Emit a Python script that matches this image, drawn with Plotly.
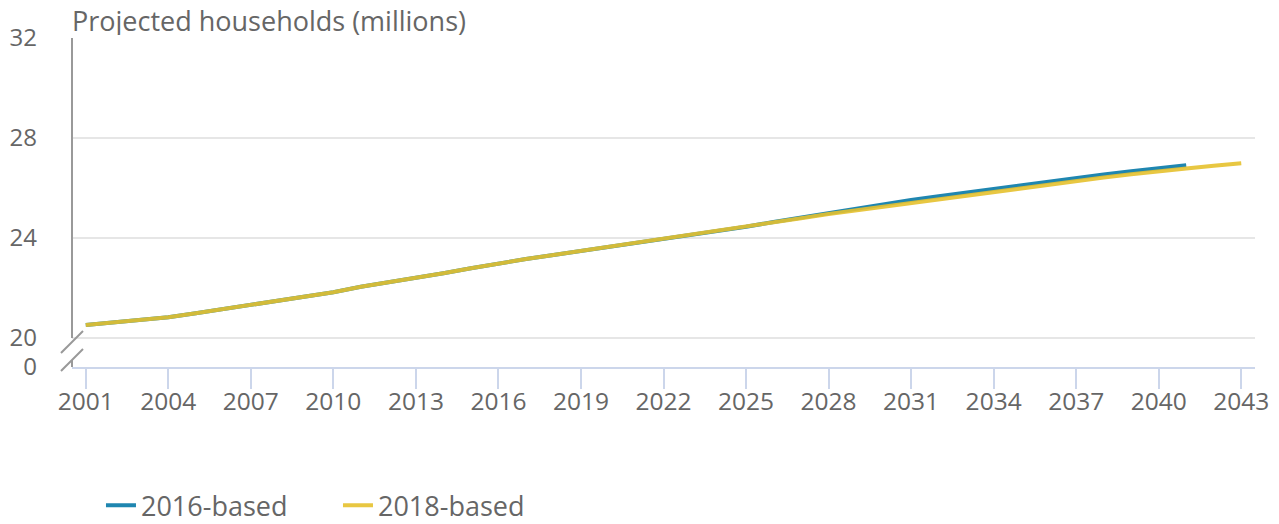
import plotly.graph_objects as go

years_2016 = list(range(2001, 2042))
years_2018 = list(range(2001, 2044))

based_2016 = [20.52, 20.62, 20.72, 20.83, 20.99, 21.15, 21.32, 21.49, 21.66, 21.83,
              22.05, 22.22, 22.39, 22.59, 22.79, 22.99, 23.16, 23.32, 23.48, 23.64,
              23.79, 23.95, 24.12, 24.29, 24.45, 24.64, 24.82, 25.00, 25.17, 25.34,
              25.52, 25.67, 25.82, 25.97, 26.12, 26.27, 26.41, 26.54, 26.67, 26.79,
              26.91]
based_2018 = [20.52, 20.62, 20.72, 20.83, 20.99, 21.15, 21.32, 21.49, 21.66, 21.83,
              22.05, 22.22, 22.39, 22.59, 22.79, 22.99, 23.16, 23.32, 23.48, 23.64,
              23.79, 23.95, 24.12, 24.29, 24.45, 24.62, 24.79, 24.96, 25.11, 25.26,
              25.41, 25.56, 25.71, 25.85, 25.99, 26.14, 26.29, 26.42, 26.55, 26.68,
              26.78, 26.89, 26.99]

x_ticks = list(range(2001, 2044, 3))
y_tick_labels = ["0", "20", "24", "28", "32"]
y_tick_values = [18.84, 20, 24, 28, 32]

FONT = "Open Sans"
GREY = "#666666"
AXIS_GREY = "#999999"

fig = go.Figure()
fig.add_trace(go.Scatter(x=years_2016, y=based_2016, mode="lines", name="2016-based",
                         line=dict(color="#1f86b0", width=4)))
fig.add_trace(go.Scatter(x=years_2018, y=based_2018, mode="lines", name="2018-based",
                         line=dict(color="#e6c12e", width=4), opacity=0.9))

# vertical axis line (broken) and break marks
fig.add_shape(type="line", xref="paper", yref="paper", x0=0, x1=0, y0=0.088, y1=1,
              line=dict(color=AXIS_GREY, width=2))
fig.add_shape(type="line", xref="paper", yref="paper", x0=0, x1=0, y0=0.0, y1=0.021,
              line=dict(color=AXIS_GREY, width=2))
for y0, y1 in ((0.0426, 0.1094), (-0.0122, 0.0547)):
    fig.add_shape(type="line", xref="paper", yref="paper",
                  x0=-0.0093, x1=0.0093, y0=y0, y1=y1,
                  line=dict(color=AXIS_GREY, width=2))

fig.update_layout(
    width=1279, height=524,
    margin=dict(l=64, r=32, t=30, b=165, autoexpand=False),
    plot_bgcolor="white", paper_bgcolor="white",
    font=dict(family=FONT, color=GREY, size=24),
    showlegend=True,
    legend=dict(orientation="h", x=0.0245, xanchor="left",
                yref="container", y=0.05, yanchor="middle",
                font=dict(size=27, color=GREY), entrywidth=192, traceorder="normal"),
    xaxis=dict(range=[2000.5, 2043.5], tickvals=x_ticks, ticks="outside", ticklen=20,
               tickcolor="#ccd6eb", tickwidth=2, showline=True, linecolor="#ccd6eb",
               linewidth=2, showgrid=False, zeroline=False, ticklabelstandoff=-8,
               automargin=False, tickfont=dict(size=24.5, color=GREY)),
    yaxis=dict(range=[18.84, 32], tickvals=y_tick_values, ticktext=y_tick_labels,
               showgrid=True, gridcolor="#e6e6e6", gridwidth=2, zeroline=False,
               showline=False, ticks="", ticklabelstandoff=34, automargin=False,
               tickfont=dict(size=24, color=GREY)),
    annotations=[dict(text="Projected households (millions)", xref="paper", yref="paper",
                      x=0, y=1, xanchor="left", yanchor="bottom", yshift=1, xshift=-2,
                      height=30, valign="middle",
                      showarrow=False, font=dict(size=27, color=GREY))],
)

fig.write_html("out.html")
